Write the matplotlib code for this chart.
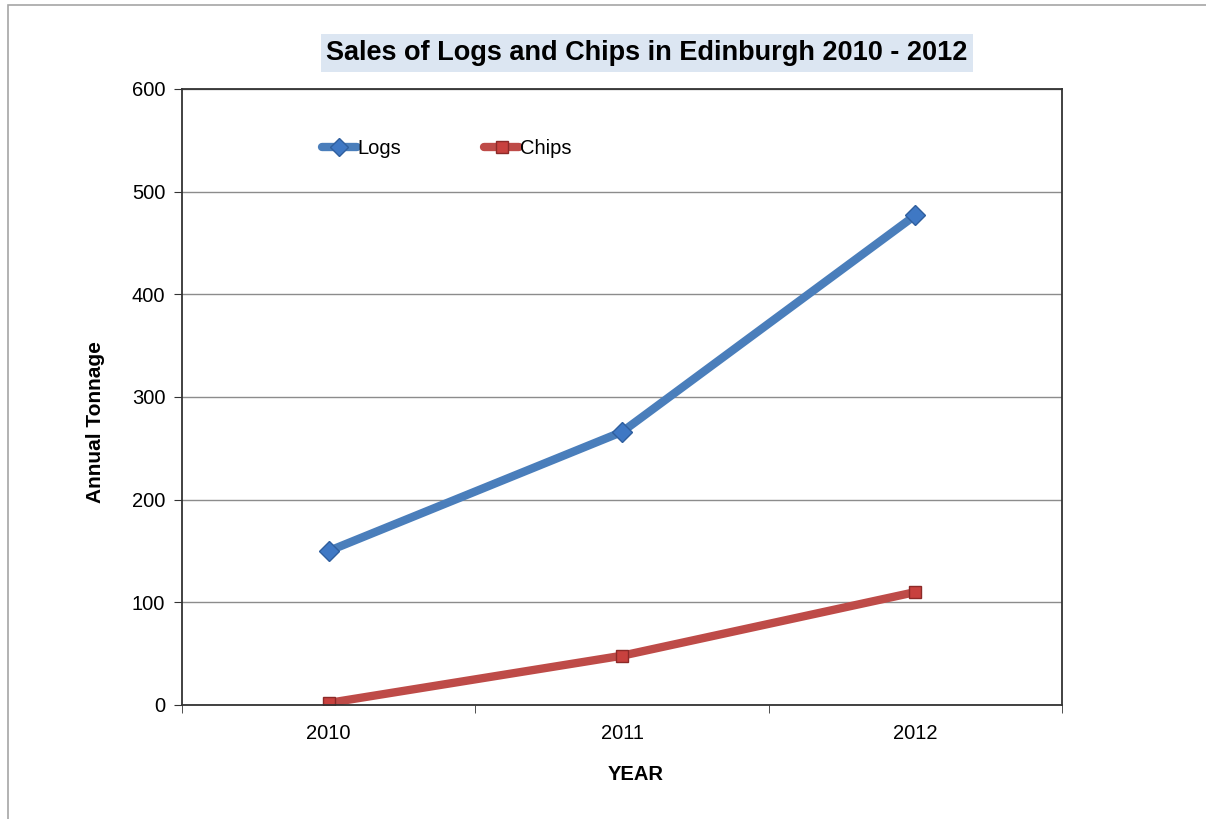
import matplotlib.pyplot as plt
from matplotlib.patches import Rectangle

years = ['2010', '2011', '2012']
logs = [150, 266, 477]
chips = [2, 48, 110]

plt.rcParams['font.family'] = ['Liberation Sans', 'DejaVu Sans']

fig = plt.figure(figsize=(12.06, 8.19), dpi=100)
ax = fig.add_axes([182 / 1206, 1 - 705 / 819, 880 / 1206, 616 / 819])

# outer chart border
fig.patches.append(Rectangle((8 / 1206, -0.01), 1.2, 1 - 5 / 819 + 0.01,
                             transform=fig.transFigure, fill=False,
                             edgecolor='#a6a6a6', linewidth=1.2))

x = range(len(years))
ax.plot(x, logs, color='#4a7ebb', linewidth=6, marker='D', markersize=10,
        markerfacecolor='#3f78c4', markeredgecolor='#2f5f9e', label='Logs',
        solid_capstyle='round')
ax.plot(x, chips, color='#be4b48', linewidth=6, marker='s', markersize=9,
        markerfacecolor='#c8413e', markeredgecolor='#8c2a28', label='Chips',
        solid_capstyle='round')

ax.set_xlim(-0.5, 2.5)
ax.set_ylim(0, 600)
ax.set_yticks(range(0, 601, 100))
ax.set_xticks(x)
ax.set_xticklabels(years)
ax.set_xticks([-0.5, 0.5, 1.5, 2.5], minor=True)
ax.tick_params(axis='x', which='major', length=0, pad=14, labelsize=14.5)
ax.tick_params(axis='x', which='minor', length=6, direction='out', color='#333333')
ax.tick_params(axis='y', length=6, direction='out', labelsize=14.5, pad=6, color='#333333')
ax.grid(axis='y', color='#8c8c8c', linewidth=1)
ax.set_axisbelow(True)
for s in ax.spines.values():
    s.set_color('#333333')
    s.set_linewidth(1.3)

ax.set_ylabel('Annual Tonnage', fontsize=15, fontweight='bold')
ax.yaxis.set_label_coords(-0.087, 0.46)
ax.set_xlabel('YEAR', fontsize=14.5, fontweight='bold')
ax.xaxis.set_label_coords(0.516, -0.098)

fig.text(647 / 1206, 1 - 53 / 819, 'Sales of Logs and Chips in Edinburgh 2010 - 2012',
         ha='center', va='center', fontsize=19.5, fontweight='bold',
         bbox=dict(facecolor='#dce6f2', edgecolor='none', pad=4))

ax.legend(loc='center left', bbox_to_anchor=(0.138, 0.903), ncol=2, frameon=False,
          fontsize=14.5, handlelength=1.75, handletextpad=0.05, columnspacing=4.1,
          markerscale=0.95)

fig.savefig('out.png', dpi=100)
